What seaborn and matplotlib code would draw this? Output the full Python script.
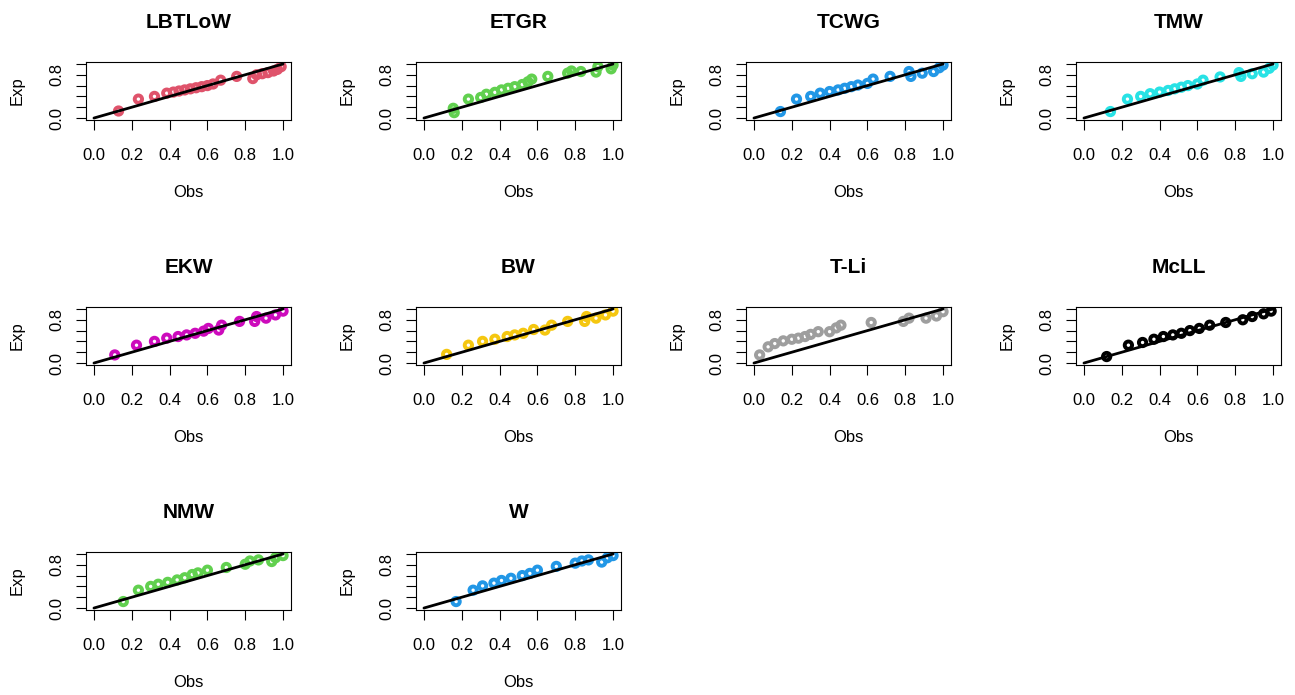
import matplotlib
matplotlib.use("Agg")
import matplotlib.pyplot as plt
import seaborn as sns
import pandas as pd

# P-P plots: fitted (Exp) against observed (Obs) probabilities for each model
panel_names = ["LBTLoW", "ETGR", "TCWG", "TMW", "EKW", "BW", "T-Li", "McLL", "NMW", "W"]
panel_colors = ["#DF536B", "#61D04F", "#2297E6", "#28E2E5", "#CD0BBC",
                "#F5C710", "#9E9E9E", "#000000", "#61D04F", "#2297E6"]

lbtlow_obs = [0.13, 0.235, 0.32, 0.385, 0.42, 0.45, 0.48, 0.51, 0.54, 0.57, 0.60, 0.63, 0.67, 0.755, 0.84, 0.86, 0.89, 0.92, 0.95, 0.97, 0.99]
lbtlow_exp = [0.13, 0.35, 0.40, 0.46, 0.48, 0.50, 0.52, 0.54, 0.56, 0.58, 0.60, 0.63, 0.70, 0.77, 0.73, 0.80, 0.82, 0.84, 0.87, 0.90, 0.95]

etgr_obs = [0.155, 0.16, 0.235, 0.30, 0.33, 0.375, 0.41, 0.445, 0.48, 0.52, 0.55, 0.57, 0.655, 0.76, 0.78, 0.83, 0.91, 0.92, 0.99, 1.00]
etgr_exp = [0.18, 0.10, 0.35, 0.38, 0.44, 0.475, 0.52, 0.55, 0.58, 0.62, 0.67, 0.72, 0.77, 0.83, 0.87, 0.86, 0.85, 0.95, 0.91, 0.98]

tcwg_obs = [0.14, 0.225, 0.30, 0.35, 0.40, 0.445, 0.48, 0.515, 0.55, 0.60, 0.63, 0.72, 0.82, 0.83, 0.89, 0.95, 0.98, 1.00]
tcwg_exp = [0.12, 0.35, 0.40, 0.46, 0.49, 0.52, 0.55, 0.58, 0.61, 0.64, 0.72, 0.77, 0.86, 0.77, 0.83, 0.86, 0.93, 0.98]

tmw_obs = [0.14, 0.23, 0.30, 0.35, 0.40, 0.445, 0.48, 0.515, 0.55, 0.60, 0.63, 0.72, 0.82, 0.83, 0.89, 0.95, 0.98, 1.00]
tmw_exp = [0.12, 0.35, 0.40, 0.45, 0.48, 0.51, 0.54, 0.57, 0.60, 0.63, 0.70, 0.76, 0.84, 0.77, 0.82, 0.85, 0.92, 0.98]

ekw_obs = [0.11, 0.225, 0.32, 0.385, 0.445, 0.49, 0.535, 0.58, 0.605, 0.66, 0.675, 0.77, 0.85, 0.86, 0.91, 0.96, 1.00]
ekw_exp = [0.15, 0.33, 0.40, 0.46, 0.49, 0.52, 0.55, 0.59, 0.64, 0.61, 0.70, 0.77, 0.77, 0.86, 0.83, 0.89, 0.96]

bw_obs = [0.12, 0.235, 0.31, 0.375, 0.44, 0.48, 0.525, 0.58, 0.64, 0.675, 0.76, 0.85, 0.86, 0.91, 0.96, 1.00]
bw_exp = [0.16, 0.33, 0.40, 0.44, 0.49, 0.52, 0.55, 0.62, 0.61, 0.70, 0.77, 0.77, 0.86, 0.83, 0.89, 0.96]

tli_obs = [0.03, 0.075, 0.11, 0.155, 0.20, 0.235, 0.27, 0.30, 0.34, 0.40, 0.435, 0.46, 0.62, 0.79, 0.82, 0.91, 0.965, 1.00]
tli_exp = [0.15, 0.30, 0.36, 0.41, 0.44, 0.46, 0.49, 0.53, 0.58, 0.58, 0.65, 0.70, 0.75, 0.77, 0.83, 0.83, 0.87, 0.95]

mcll_obs = [0.12, 0.235, 0.31, 0.37, 0.42, 0.47, 0.515, 0.56, 0.61, 0.665, 0.75, 0.84, 0.89, 0.95, 0.99]
mcll_exp = [0.12, 0.33, 0.38, 0.44, 0.49, 0.52, 0.55, 0.60, 0.64, 0.70, 0.75, 0.80, 0.86, 0.91, 0.96]

nmw_obs = [0.155, 0.235, 0.30, 0.34, 0.39, 0.44, 0.48, 0.52, 0.55, 0.60, 0.70, 0.80, 0.825, 0.87, 0.94, 0.96, 1.00]
nmw_exp = [0.12, 0.33, 0.40, 0.44, 0.475, 0.52, 0.56, 0.62, 0.65, 0.70, 0.75, 0.81, 0.87, 0.89, 0.86, 0.93, 0.97]

w_obs = [0.17, 0.26, 0.31, 0.37, 0.41, 0.46, 0.52, 0.56, 0.60, 0.70, 0.80, 0.835, 0.87, 0.94, 0.97, 1.00]
w_exp = [0.12, 0.33, 0.41, 0.46, 0.51, 0.55, 0.60, 0.64, 0.70, 0.77, 0.83, 0.87, 0.89, 0.85, 0.93, 0.97]

obs_series = [lbtlow_obs, etgr_obs, tcwg_obs, tmw_obs, ekw_obs, bw_obs, tli_obs, mcll_obs, nmw_obs, w_obs]
exp_series = [lbtlow_exp, etgr_exp, tcwg_exp, tmw_exp, ekw_exp, bw_exp, tli_exp, mcll_exp, nmw_exp, w_exp]

tick_values = [0.0, 0.2, 0.4, 0.6, 0.8, 1.0]
x_tick_labels = ["0.0", "0.2", "0.4", "0.6", "0.8", "1.0"]
y_tick_labels = ["0.0", "", "", "", "0.8", ""]

sns.set_theme(style="ticks")
plt.rcParams["font.family"] = ["Liberation Sans", "DejaVu Sans"]
plt.rcParams["text.color"] = "black"
plt.rcParams["axes.labelcolor"] = "black"
plt.rcParams["xtick.color"] = "black"
plt.rcParams["ytick.color"] = "black"
plt.rcParams["axes.edgecolor"] = "black"

W, H = 1295, 695
fig = plt.figure(figsize=(W / 100, H / 100), dpi=100)
fig.patch.set_facecolor("white")

ax_w, ax_h = 204.2, 58.4
for i, name in enumerate(panel_names):
    r, c = divmod(i, 4)
    left = 86.4 + 330 * c
    top = 61.8 + 245 * r
    ax = fig.add_axes([left / W, 1 - (top + ax_h) / H, ax_w / W, ax_h / H])
    df = pd.DataFrame({"Obs": obs_series[i], "Exp": exp_series[i]})
    sns.lineplot(x=[0, 1], y=[0, 1], ax=ax, color="black", linewidth=2.0, zorder=3)
    sns.scatterplot(data=df, x="Obs", y="Exp", ax=ax, marker="o", s=28,
                    facecolor="none", edgecolor=panel_colors[i], linewidth=2.8, zorder=2)
    ax.set_xlim(-0.04, 1.04)
    ax.set_ylim(-0.04, 1.04)
    ax.set_xticks(tick_values)
    ax.set_xticklabels(x_tick_labels)
    ax.set_yticks(tick_values)
    ax.set_yticklabels(y_tick_labels)
    for lab in ax.get_yticklabels():
        lab.set_rotation(90)
        lab.set_va("center")
    ax.tick_params(direction="out", length=7.2, width=0.8, labelsize=12)
    ax.tick_params(axis="x", pad=13)
    ax.tick_params(axis="y", pad=9)
    for sp in ax.spines.values():
        sp.set_visible(True)
        sp.set_color("black")
        sp.set_linewidth(0.8)
    ax.set_xlabel("Obs", fontsize=12)
    ax.set_ylabel("Exp", fontsize=12)
    ax.xaxis.set_label_coords(0.5, (120.2 - 193) / ax_h)
    ax.xaxis.label.set_va("center")
    ax.yaxis.set_label_coords((17 - 86.4) / ax_w, 0.5)
    ax.yaxis.label.set_va("center")
    ax.set_title(name, y=(120.2 - 23) / ax_h, pad=0, va="center",
                 fontsize=15, fontweight="bold")

fig.savefig("out.png", dpi=100, facecolor="white")
